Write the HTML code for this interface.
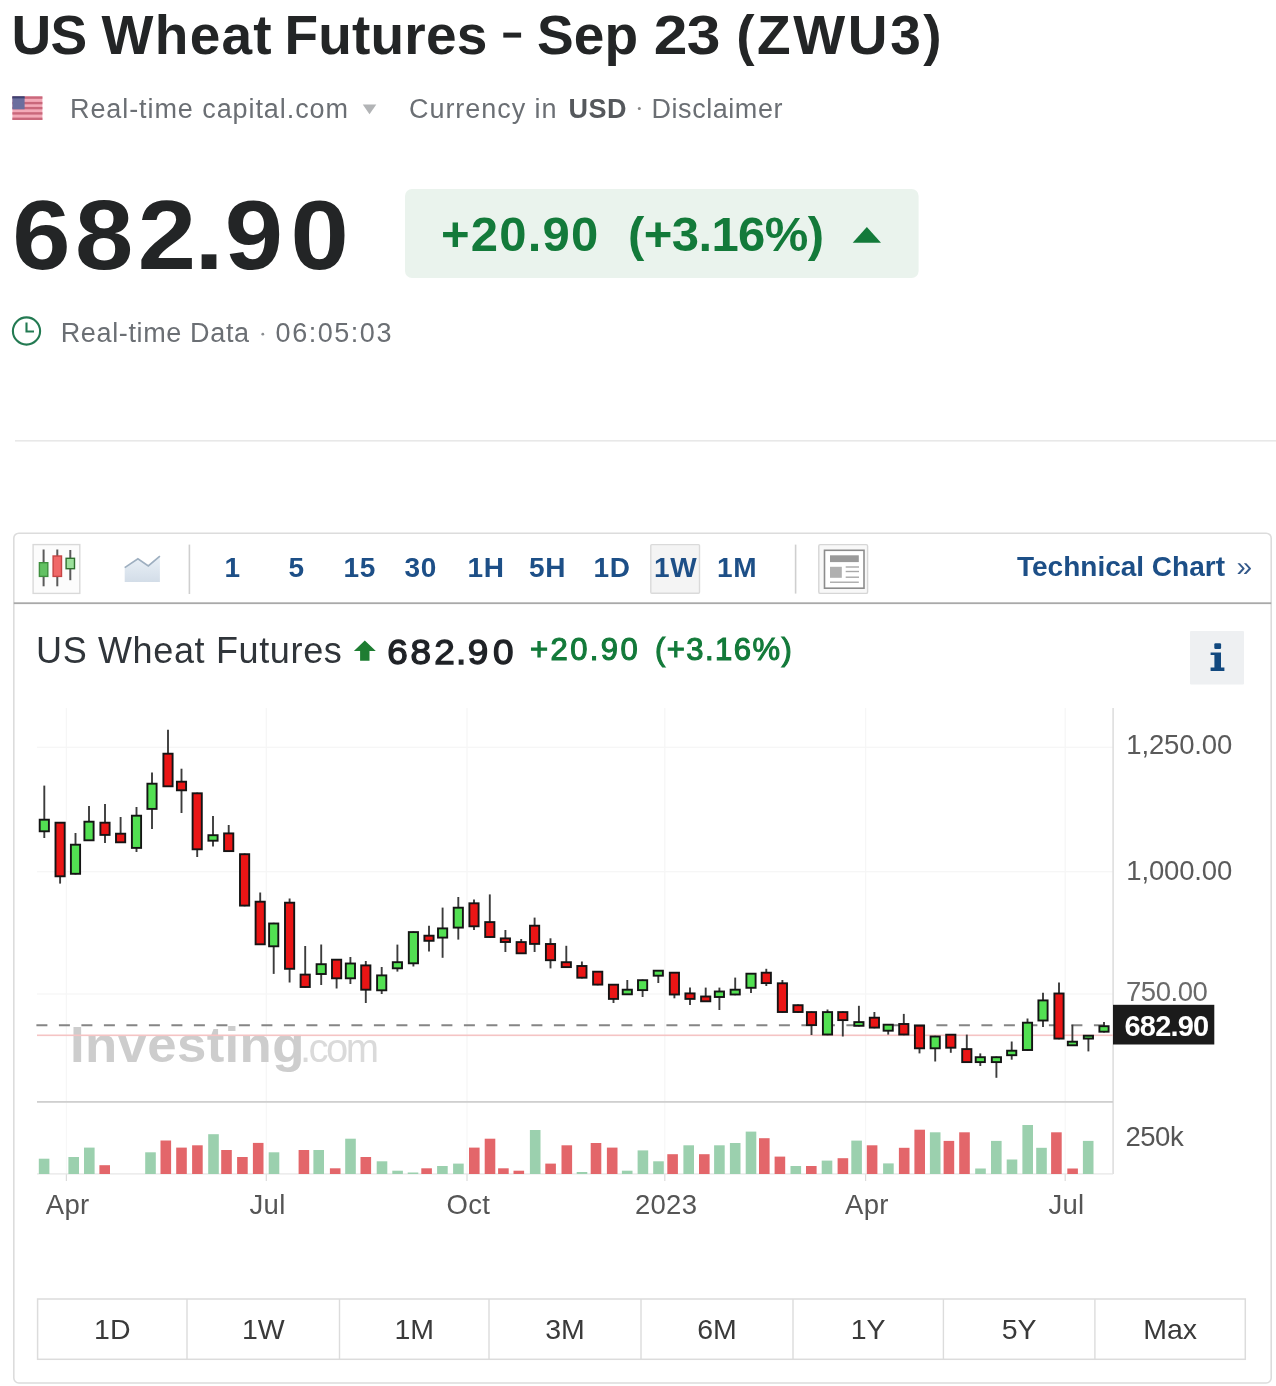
<!DOCTYPE html>
<html><head><meta charset="utf-8"><title>US Wheat Futures - Sep 23 (ZWU3)</title>
<style>
html,body{margin:0;padding:0;background:#fff;}
body{width:1276px;height:1386px;overflow:hidden;font-family:"Liberation Sans",sans-serif;}
svg{display:block;will-change:transform}
</style></head><body>
<svg width="1276" height="1386" viewBox="0 0 1276 1386">
<text x="11.4" y="53.6" font-size="55" font-weight="700" fill="#232526" letter-spacing="-0.6" font-family="Liberation Sans" >US</text>
<text x="101.6" y="53.6" font-size="55" font-weight="700" fill="#232526" letter-spacing="1.27" font-family="Liberation Sans" >Wheat</text>
<text x="284.5" y="53.6" font-size="55" font-weight="700" fill="#232526" letter-spacing="0.18" font-family="Liberation Sans" >Futures</text>
<rect x="503.3" y="32.6" width="17.8" height="5.0" fill="#232526"/><text x="537" y="53.6" font-size="55" font-weight="700" fill="#232526" letter-spacing="0.15" font-family="Liberation Sans" >Sep</text>
<text x="670.6" y="53.6" font-size="55" font-weight="700" fill="#232526" text-anchor="middle" font-family="Liberation Sans" transform="translate(670.6,0) scale(1.1,1) translate(-670.6,0)">2</text><text x="703.5" y="53.6" font-size="55" font-weight="700" fill="#232526" text-anchor="middle" font-family="Liberation Sans" transform="translate(703.5,0) scale(1.1,1) translate(-703.5,0)">3</text><text x="736.2" y="53.6" font-size="55" font-weight="700" fill="#232526" letter-spacing="2.6" font-family="Liberation Sans" >(ZWU3)</text>

<g><rect x="12.4" y="96.4" width="30" height="23.6" fill="#f3aab8"/><rect x="12.4" y="96.39999999999999" width="30" height="2.4" fill="#c9687b"/><rect x="12.4" y="101.89999999999999" width="30" height="2.4" fill="#c9687b"/><rect x="12.4" y="106.89999999999999" width="30" height="2.4" fill="#c9687b"/><rect x="12.4" y="112.2" width="30" height="2.4" fill="#c9687b"/><rect x="12.4" y="117.6" width="30" height="2.4" fill="#c9687b"/><rect x="12.4" y="96.4" width="12.2" height="12.9" fill="#6b6e9e"/><rect x="12.4" y="96.4" width="12.2" height="2" fill="#3d4270"/></g>
<text x="70" y="118" font-size="27" font-weight="400" fill="#6b6f74" letter-spacing="0.92" font-family="Liberation Sans" >Real-time capital.com</text>
<path d="M362.8,104.5 L376.3,104.5 L369.5,114.3 Z" fill="#b2b4b6"/>
<text x="409" y="118" font-size="27" font-weight="400" fill="#6b6f74" letter-spacing="0.95" font-family="Liberation Sans" >Currency in</text>
<text x="568.5" y="118" font-size="27" font-weight="700" fill="#55585c" letter-spacing="0.5" font-family="Liberation Sans" >USD</text>
<circle cx="639.3" cy="108.5" r="1.5" fill="#888"/>
<text x="651.5" y="118" font-size="27" font-weight="400" fill="#6b6f74" letter-spacing="0.55" font-family="Liberation Sans" >Disclaimer</text>
<text x="41.5" y="268.8" font-size="98" font-weight="700" fill="#232526" text-anchor="middle" font-family="Liberation Sans" transform="translate(41.5,0) scale(1.07,1) translate(-41.5,0)">6</text><text x="104.2" y="268.8" font-size="98" font-weight="700" fill="#232526" text-anchor="middle" font-family="Liberation Sans" transform="translate(104.2,0) scale(1.07,1) translate(-104.2,0)">8</text><text x="166.8" y="268.8" font-size="98" font-weight="700" fill="#232526" text-anchor="middle" font-family="Liberation Sans" transform="translate(166.8,0) scale(1.07,1) translate(-166.8,0)">2</text><text x="209" y="268.8" font-size="98" font-weight="700" fill="#232526" text-anchor="middle" font-family="Liberation Sans" transform="translate(209,0) scale(1.07,1) translate(-209,0)">.</text><text x="253.9" y="268.8" font-size="98" font-weight="700" fill="#232526" text-anchor="middle" font-family="Liberation Sans" transform="translate(253.9,0) scale(1.07,1) translate(-253.9,0)">9</text><text x="319.7" y="268.8" font-size="98" font-weight="700" fill="#232526" text-anchor="middle" font-family="Liberation Sans" transform="translate(319.7,0) scale(1.07,1) translate(-319.7,0)">0</text>
<rect x="405" y="189" width="513.6" height="89" rx="7" fill="#eaf3ed"/>
<text x="441" y="251" font-size="49" font-weight="700" fill="#137a3a" letter-spacing="1.2" font-family="Liberation Sans" >+20.90</text>
<text x="628" y="251" font-size="49" font-weight="700" fill="#137a3a" letter-spacing="-0.6" font-family="Liberation Sans" >(+3.16%)</text>
<path d="M852.7,242.7 L881,242.7 L866.85,227 Z" fill="#137a3a"/>
<circle cx="26.5" cy="331" r="13.6" fill="none" stroke="#237a52" stroke-width="2.1"/>
<path d="M26.5,322.5 L26.5,331.5 L34,331.5" fill="none" stroke="#237a52" stroke-width="2.1"/>
<text x="60.7" y="341.6" font-size="27" font-weight="400" fill="#6b6f74" letter-spacing="0.64" font-family="Liberation Sans" >Real-time Data</text>
<circle cx="262.8" cy="334.2" r="1.4" fill="#8a8d90"/><text x="275.6" y="341.6" font-size="27" font-weight="400" fill="#6b6f74" letter-spacing="1.53" font-family="Liberation Sans" >06:05:03</text>
<rect x="15" y="440" width="1261" height="1.6" fill="#e8e8e8"/>
<rect x="13.8" y="533.2" width="1257.4" height="849.8" rx="5" fill="#fff" stroke="#dcdcdc" stroke-width="1.6"/>
<rect x="13.8" y="602.3" width="1257.4" height="1.8" fill="#a9a9a9"/>
<rect x="33.1" y="544.6" width="46.7" height="48.8" fill="#fcfcfc" stroke="#d9d9d9" stroke-width="1.4"/>
<line x1="43.6" y1="549.5" x2="43.6" y2="586.3" stroke="#5a5a5a" stroke-width="2"/><rect x="39.4" y="562.7" width="8.4" height="13.7" fill="#63c163" stroke="#3f8f3f" stroke-width="1.4"/>
<line x1="57.3" y1="549.5" x2="57.3" y2="586.3" stroke="#5a5a5a" stroke-width="2"/><rect x="53.099999999999994" y="556" width="8.4" height="20.4" fill="#f06868" stroke="#c64444" stroke-width="1.4"/>
<line x1="70.3" y1="550" x2="70.3" y2="580.2" stroke="#5a5a5a" stroke-width="2"/><rect x="66.1" y="558.3" width="8.4" height="10.4" fill="#9be09b" stroke="#2f6f2f" stroke-width="1.4"/>
<defs><linearGradient id="ag" x1="0" y1="0" x2="0" y2="1"><stop offset="0" stop-color="#eaf1f7"/><stop offset="1" stop-color="#d3dde8"/></linearGradient></defs><path d="M124.7,581.9 L124.7,567.6 L137.9,558.8 L148.3,566 L159.9,556.1 L159.9,581.9 Z" fill="url(#ag)"/>
<path d="M124.7,567.6 L137.9,558.8 L148.3,566 L159.9,556.1" fill="none" stroke="#9eafc0" stroke-width="1.7"/>
<rect x="188.6" y="544.6" width="1.6" height="49.4" fill="#cfcfcf"/>
<rect x="650.8" y="544.6" width="48.7" height="48.6" fill="#f4f4f4" stroke="#dadada" stroke-width="1.4" rx="1"/>
<text x="224.5" y="576.5" font-size="28" font-weight="700" fill="#1d4f87" letter-spacing="0.8" font-family="Liberation Sans" >1</text>
<text x="288.5" y="576.5" font-size="28" font-weight="700" fill="#1d4f87" letter-spacing="0.8" font-family="Liberation Sans" >5</text>
<text x="343.5" y="576.5" font-size="28" font-weight="700" fill="#1d4f87" letter-spacing="0.8" font-family="Liberation Sans" >15</text>
<text x="404.5" y="576.5" font-size="28" font-weight="700" fill="#1d4f87" letter-spacing="0.8" font-family="Liberation Sans" >30</text>
<text x="467.5" y="576.5" font-size="28" font-weight="700" fill="#1d4f87" letter-spacing="0.8" font-family="Liberation Sans" >1H</text>
<text x="529" y="576.5" font-size="28" font-weight="700" fill="#1d4f87" letter-spacing="0.8" font-family="Liberation Sans" >5H</text>
<text x="593.5" y="576.5" font-size="28" font-weight="700" fill="#1d4f87" letter-spacing="0.8" font-family="Liberation Sans" >1D</text>
<text x="654" y="576.5" font-size="28" font-weight="700" fill="#1d4f87" letter-spacing="0.8" font-family="Liberation Sans" >1W</text>
<text x="717" y="576.5" font-size="28" font-weight="700" fill="#1d4f87" letter-spacing="0.8" font-family="Liberation Sans" >1M</text>
<rect x="794.8" y="544.6" width="1.6" height="49" fill="#cfcfcf"/>
<rect x="818.8" y="544.6" width="48.8" height="48.8" rx="1.5" fill="#f8f8f8" stroke="#d6d6d6" stroke-width="1.4"/>
<rect x="824.5" y="550.3" width="39.5" height="37.9" fill="#fff" stroke="#8c8c8c" stroke-width="1.6"/>
<rect x="830" y="555.3" width="28.8" height="6.8" fill="#9a9a9a"/>
<rect x="830" y="566.8" width="11.8" height="11" fill="#b0b0b0"/>
<rect x="845.7" y="566.3" width="13.3" height="1.4" fill="#a8a8a8"/><rect x="845.7" y="570.8" width="13.3" height="1.4" fill="#a8a8a8"/><rect x="845.7" y="576.5" width="13.3" height="1.4" fill="#a8a8a8"/><rect x="830" y="581.5" width="28.8" height="1.5" fill="#b0b0b0"/>
<text x="1017" y="576.3" font-size="28" font-weight="700" fill="#1d4f87" font-family="Liberation Sans" >Technical Chart</text>
<text x="1236.5" y="576" font-size="28" font-weight="400" fill="#34598a" font-family="Liberation Sans" >»</text>
<text x="36" y="663.3" font-size="36" font-weight="400" fill="#30353a" letter-spacing="0.65" font-family="Liberation Sans" >US Wheat Futures</text>
<path d="M364.8,640.4 L375.8,651 L369.5,651 L369.5,660.7 L360.1,660.7 L360.1,651 L353.9,651 Z" fill="#1e7d32"/>
<text x="397.6" y="664" font-size="35.5" font-weight="400" fill="#1f2226" stroke="#1f2226" stroke-width="1.3" text-anchor="middle" font-family="Liberation Sans" transform="translate(397.6,0) scale(1.04,1) translate(-397.6,0)">6</text><text x="420.8" y="664" font-size="35.5" font-weight="400" fill="#1f2226" stroke="#1f2226" stroke-width="1.3" text-anchor="middle" font-family="Liberation Sans" transform="translate(420.8,0) scale(1.04,1) translate(-420.8,0)">8</text><text x="444.6" y="664" font-size="35.5" font-weight="400" fill="#1f2226" stroke="#1f2226" stroke-width="1.3" text-anchor="middle" font-family="Liberation Sans" transform="translate(444.6,0) scale(1.04,1) translate(-444.6,0)">2</text><text x="461.2" y="664" font-size="35.5" font-weight="400" fill="#1f2226" stroke="#1f2226" stroke-width="1.3" text-anchor="middle" font-family="Liberation Sans" transform="translate(461.2,0) scale(1.04,1) translate(-461.2,0)">.</text><text x="478.1" y="664" font-size="35.5" font-weight="400" fill="#1f2226" stroke="#1f2226" stroke-width="1.3" text-anchor="middle" font-family="Liberation Sans" transform="translate(478.1,0) scale(1.04,1) translate(-478.1,0)">9</text><text x="503.2" y="664" font-size="35.5" font-weight="400" fill="#1f2226" stroke="#1f2226" stroke-width="1.3" text-anchor="middle" font-family="Liberation Sans" transform="translate(503.2,0) scale(1.04,1) translate(-503.2,0)">0</text>
<text x="530" y="659.8" font-size="31" font-weight="400" fill="#137a3a" letter-spacing="2.4" font-family="Liberation Sans" stroke="#137a3a" stroke-width="1.1">+20.90</text>
<text x="655" y="659.8" font-size="31" font-weight="400" fill="#137a3a" letter-spacing="1.45" font-family="Liberation Sans" stroke="#137a3a" stroke-width="1.1">(+3.16%)</text>
<rect x="1190" y="631" width="54" height="53.5" fill="#eef0f2" rx="1"/>
<rect x="1214.3" y="643.3" width="6.8" height="5.6" rx="1.2" fill="#12497f"/><path d="M1210.6,652.4 L1221,652.4 L1221,667.6 L1224.4,667.6 L1224.4,671 L1210.6,671 L1210.6,667.6 L1214.4,667.6 L1214.4,655 L1210.6,655 Z" fill="#12497f"/>
<rect x="65.80000000000001" y="708" width="1.2" height="394" fill="#f6f6f6"/><rect x="65.80000000000001" y="1102" width="1.2" height="72" fill="#f7f7f7"/><rect x="65.80000000000001" y="1174" width="1.2" height="7" fill="#dcdcdc"/><rect x="265.7" y="708" width="1.2" height="394" fill="#f6f6f6"/><rect x="265.7" y="1102" width="1.2" height="72" fill="#f7f7f7"/><rect x="265.7" y="1174" width="1.2" height="7" fill="#dcdcdc"/><rect x="466.4" y="708" width="1.2" height="394" fill="#f6f6f6"/><rect x="466.4" y="1102" width="1.2" height="72" fill="#f7f7f7"/><rect x="466.4" y="1174" width="1.2" height="7" fill="#dcdcdc"/><rect x="664.1999999999999" y="708" width="1.2" height="394" fill="#f6f6f6"/><rect x="664.1999999999999" y="1102" width="1.2" height="72" fill="#f7f7f7"/><rect x="664.1999999999999" y="1174" width="1.2" height="7" fill="#dcdcdc"/><rect x="865.0" y="708" width="1.2" height="394" fill="#f6f6f6"/><rect x="865.0" y="1102" width="1.2" height="72" fill="#f7f7f7"/><rect x="865.0" y="1174" width="1.2" height="7" fill="#dcdcdc"/><rect x="1064.6000000000001" y="708" width="1.2" height="394" fill="#f6f6f6"/><rect x="1064.6000000000001" y="1102" width="1.2" height="72" fill="#f7f7f7"/><rect x="1064.6000000000001" y="1174" width="1.2" height="7" fill="#dcdcdc"/><rect x="37" y="746.6999999999999" width="1076" height="1.2" fill="#f6f6f6"/><rect x="37" y="871.1" width="1076" height="1.2" fill="#f6f6f6"/><rect x="37" y="993.4" width="1076" height="1.2" fill="#f6f6f6"/>
<rect x="1112.4" y="708" width="1.4" height="466" fill="#dadada"/>
<rect x="37" y="1101" width="1076" height="1.8" fill="#cfcfcf"/>
<rect x="37" y="1173.3" width="1076" height="1.2" fill="#e6e6e6"/>
<g transform="translate(70,0) scale(1.055,1) translate(-70,0)"><text x="70" y="1062" font-size="50" font-weight="700" fill="#cdcdcd" letter-spacing="0.35" font-family="Liberation Sans" >Investing</text>
</g><text x="300" y="1062" font-size="40" font-weight="400" fill="#dadada" letter-spacing="-2.5" font-family="Liberation Sans" >.com</text>
<line x1="36.4" y1="1025.2" x2="1112" y2="1025.2" stroke="#858585" stroke-width="2" stroke-dasharray="11,11.5"/>
<rect x="37" y="1034.5" width="1076" height="1.6" fill="#f5c4c4"/>
<rect x="38.8" y="1158.7" width="10.6" height="15.3" fill="#9bd0ae"/><rect x="68.4" y="1157" width="10.6" height="17.0" fill="#9bd0ae"/><rect x="84.0" y="1147.6" width="10.6" height="26.4" fill="#9bd0ae"/><rect x="99.4" y="1165.2" width="10.6" height="8.8" fill="#e3666a"/><rect x="145.2" y="1152.3" width="10.6" height="21.7" fill="#9bd0ae"/><rect x="160.5" y="1140.5" width="10.6" height="33.5" fill="#e3666a"/><rect x="176.2" y="1147.6" width="10.6" height="26.4" fill="#e3666a"/><rect x="192.1" y="1145.3" width="10.6" height="28.7" fill="#e3666a"/><rect x="208.2" y="1134.2" width="10.6" height="39.8" fill="#9bd0ae"/><rect x="221.2" y="1150" width="10.6" height="24.0" fill="#e3666a"/><rect x="237.1" y="1157" width="10.6" height="17.0" fill="#e3666a"/><rect x="252.9" y="1142.9" width="10.6" height="31.1" fill="#e3666a"/><rect x="268.7" y="1152.3" width="10.6" height="21.7" fill="#9bd0ae"/><rect x="298.6" y="1150" width="10.6" height="24.0" fill="#e3666a"/><rect x="313.4" y="1150" width="10.6" height="24.0" fill="#9bd0ae"/><rect x="329.9" y="1168.3" width="10.6" height="5.7" fill="#e3666a"/><rect x="345.2" y="1138.7" width="10.6" height="35.3" fill="#9bd0ae"/><rect x="360.5" y="1157" width="10.6" height="17.0" fill="#e3666a"/><rect x="376.7" y="1161.3" width="10.6" height="12.7" fill="#9bd0ae"/><rect x="392.3" y="1170.7" width="10.6" height="3.3" fill="#9bd0ae"/><rect x="407.7" y="1172.5" width="10.6" height="1.5" fill="#9bd0ae"/><rect x="421.3" y="1168.3" width="10.6" height="5.7" fill="#e3666a"/><rect x="437.1" y="1166" width="10.6" height="8.0" fill="#9bd0ae"/><rect x="453.1" y="1163.6" width="10.6" height="10.4" fill="#9bd0ae"/><rect x="469.0" y="1147.6" width="10.6" height="26.4" fill="#e3666a"/><rect x="484.7" y="1138.7" width="10.6" height="35.3" fill="#e3666a"/><rect x="498.1" y="1168.3" width="10.6" height="5.7" fill="#e3666a"/><rect x="513.5" y="1170.7" width="10.6" height="3.3" fill="#e3666a"/><rect x="529.9" y="1130" width="10.6" height="44.0" fill="#9bd0ae"/><rect x="545.3" y="1163.6" width="10.6" height="10.4" fill="#e3666a"/><rect x="561.5" y="1145.3" width="10.6" height="28.7" fill="#e3666a"/><rect x="576.7" y="1172" width="10.6" height="2.0" fill="#9bd0ae"/><rect x="590.7" y="1143" width="10.6" height="31.0" fill="#e3666a"/><rect x="606.9" y="1147.6" width="10.6" height="26.4" fill="#e3666a"/><rect x="621.9" y="1170.7" width="10.6" height="3.3" fill="#9bd0ae"/><rect x="637.6" y="1150.4" width="10.6" height="23.6" fill="#9bd0ae"/><rect x="653.2" y="1161.3" width="10.6" height="12.7" fill="#9bd0ae"/><rect x="667.3" y="1154.2" width="10.6" height="19.8" fill="#e3666a"/><rect x="683.4" y="1145.3" width="10.6" height="28.7" fill="#9bd0ae"/><rect x="699.0" y="1154.2" width="10.6" height="19.8" fill="#e3666a"/><rect x="714.1" y="1145.3" width="10.6" height="28.7" fill="#9bd0ae"/><rect x="729.9" y="1143" width="10.6" height="31.0" fill="#9bd0ae"/><rect x="745.7" y="1131.6" width="10.6" height="42.4" fill="#9bd0ae"/><rect x="759.0" y="1138.2" width="10.6" height="35.8" fill="#e3666a"/><rect x="774.6" y="1156.6" width="10.6" height="17.4" fill="#e3666a"/><rect x="790.5" y="1166" width="10.6" height="8.0" fill="#9bd0ae"/><rect x="806.0" y="1166" width="10.6" height="8.0" fill="#e3666a"/><rect x="821.7" y="1160.6" width="10.6" height="13.4" fill="#9bd0ae"/><rect x="837.6" y="1158.2" width="10.6" height="15.8" fill="#e3666a"/><rect x="851.3" y="1140.6" width="10.6" height="33.4" fill="#9bd0ae"/><rect x="866.8" y="1145.3" width="10.6" height="28.7" fill="#e3666a"/><rect x="883.1" y="1163.4" width="10.6" height="10.6" fill="#9bd0ae"/><rect x="898.9" y="1147.8" width="10.6" height="26.2" fill="#e3666a"/><rect x="914.4" y="1129.7" width="10.6" height="44.3" fill="#e3666a"/><rect x="929.9" y="1132.3" width="10.6" height="41.7" fill="#9bd0ae"/><rect x="943.6" y="1140.9" width="10.6" height="33.1" fill="#e3666a"/><rect x="959.2" y="1132.3" width="10.6" height="41.7" fill="#e3666a"/><rect x="975.2" y="1168.5" width="10.6" height="5.5" fill="#9bd0ae"/><rect x="991.0" y="1140.9" width="10.6" height="33.1" fill="#9bd0ae"/><rect x="1006.7" y="1159.5" width="10.6" height="14.5" fill="#9bd0ae"/><rect x="1022.4" y="1125" width="10.6" height="49.0" fill="#9bd0ae"/><rect x="1036.2" y="1147.8" width="10.6" height="26.2" fill="#9bd0ae"/><rect x="1051.1" y="1132.3" width="10.6" height="41.7" fill="#e3666a"/><rect x="1067.3" y="1168.5" width="10.6" height="5.5" fill="#e3666a"/><rect x="1082.9" y="1140.9" width="10.6" height="33.1" fill="#9bd0ae"/>
<line x1="44.3" y1="785.6" x2="44.3" y2="838" stroke="#3c3c3c" stroke-width="1.9"/><rect x="39.7" y="819.7" width="9.2" height="11.6" fill="#52e052" stroke="#141414" stroke-width="1.9"/>
<line x1="60.1" y1="822" x2="60.1" y2="883.6" stroke="#3c3c3c" stroke-width="1.9"/><rect x="55.5" y="822.7" width="9.2" height="53.6" fill="#ea1515" stroke="#141414" stroke-width="1.9"/>
<line x1="75.5" y1="833" x2="75.5" y2="874.5" stroke="#3c3c3c" stroke-width="1.9"/><rect x="70.9" y="844.7" width="9.2" height="29.1" fill="#52e052" stroke="#141414" stroke-width="1.9"/>
<line x1="89" y1="806" x2="89" y2="841" stroke="#3c3c3c" stroke-width="1.9"/><rect x="84.4" y="821.7" width="9.2" height="18.6" fill="#52e052" stroke="#141414" stroke-width="1.9"/>
<line x1="105" y1="804" x2="105" y2="843" stroke="#3c3c3c" stroke-width="1.9"/><rect x="100.4" y="822.7" width="9.2" height="12.2" fill="#ea1515" stroke="#141414" stroke-width="1.9"/>
<line x1="120.6" y1="817" x2="120.6" y2="843" stroke="#3c3c3c" stroke-width="1.9"/><rect x="116.0" y="833.7" width="9.2" height="8.6" fill="#ea1515" stroke="#141414" stroke-width="1.9"/>
<line x1="136.5" y1="807" x2="136.5" y2="852" stroke="#3c3c3c" stroke-width="1.9"/><rect x="131.9" y="815.7" width="9.2" height="32.2" fill="#52e052" stroke="#141414" stroke-width="1.9"/>
<line x1="152" y1="772.6" x2="152" y2="829" stroke="#3c3c3c" stroke-width="1.9"/><rect x="147.4" y="783.7" width="9.2" height="25.2" fill="#52e052" stroke="#141414" stroke-width="1.9"/>
<line x1="168" y1="729.7" x2="168" y2="787" stroke="#3c3c3c" stroke-width="1.9"/><rect x="163.4" y="753.7" width="9.2" height="32.6" fill="#ea1515" stroke="#141414" stroke-width="1.9"/>
<line x1="181.5" y1="768.7" x2="181.5" y2="813" stroke="#3c3c3c" stroke-width="1.9"/><rect x="176.9" y="781.7" width="9.2" height="8.6" fill="#ea1515" stroke="#141414" stroke-width="1.9"/>
<line x1="197.2" y1="792.6" x2="197.2" y2="857" stroke="#3c3c3c" stroke-width="1.9"/><rect x="192.6" y="793.3" width="9.2" height="56.0" fill="#ea1515" stroke="#141414" stroke-width="1.9"/>
<line x1="213" y1="816" x2="213" y2="846.6" stroke="#3c3c3c" stroke-width="1.9"/><rect x="208.4" y="835.2" width="9.2" height="5.5" fill="#52e052" stroke="#141414" stroke-width="1.9"/>
<line x1="228.7" y1="825" x2="228.7" y2="851.8" stroke="#3c3c3c" stroke-width="1.9"/><rect x="224.1" y="833.4" width="9.2" height="17.7" fill="#ea1515" stroke="#141414" stroke-width="1.9"/>
<line x1="244.6" y1="853.5" x2="244.6" y2="906.3" stroke="#3c3c3c" stroke-width="1.9"/><rect x="240.0" y="854.2" width="9.2" height="51.4" fill="#ea1515" stroke="#141414" stroke-width="1.9"/>
<line x1="260.2" y1="892.5" x2="260.2" y2="945" stroke="#3c3c3c" stroke-width="1.9"/><rect x="255.6" y="901.7" width="9.2" height="42.6" fill="#ea1515" stroke="#141414" stroke-width="1.9"/>
<line x1="273.7" y1="922.8" x2="273.7" y2="973.9" stroke="#3c3c3c" stroke-width="1.9"/><rect x="269.1" y="923.5" width="9.2" height="22.8" fill="#52e052" stroke="#141414" stroke-width="1.9"/>
<line x1="289.6" y1="898.5" x2="289.6" y2="982.5" stroke="#3c3c3c" stroke-width="1.9"/><rect x="285.0" y="902.7" width="9.2" height="66.1" fill="#ea1515" stroke="#141414" stroke-width="1.9"/>
<line x1="305.2" y1="946" x2="305.2" y2="987.7" stroke="#3c3c3c" stroke-width="1.9"/><rect x="300.6" y="974.6" width="9.2" height="12.4" fill="#ea1515" stroke="#141414" stroke-width="1.9"/>
<line x1="321.2" y1="944.5" x2="321.2" y2="985" stroke="#3c3c3c" stroke-width="1.9"/><rect x="316.6" y="964.2" width="9.2" height="9.8" fill="#52e052" stroke="#141414" stroke-width="1.9"/>
<line x1="336.6" y1="959" x2="336.6" y2="988.5" stroke="#3c3c3c" stroke-width="1.9"/><rect x="332.0" y="959.7" width="9.2" height="18.6" fill="#ea1515" stroke="#141414" stroke-width="1.9"/>
<line x1="350.4" y1="957" x2="350.4" y2="984" stroke="#3c3c3c" stroke-width="1.9"/><rect x="345.8" y="963.5" width="9.2" height="14.8" fill="#52e052" stroke="#141414" stroke-width="1.9"/>
<line x1="365.8" y1="961" x2="365.8" y2="1003" stroke="#3c3c3c" stroke-width="1.9"/><rect x="361.2" y="965.4" width="9.2" height="24.3" fill="#ea1515" stroke="#141414" stroke-width="1.9"/>
<line x1="381.7" y1="967" x2="381.7" y2="994" stroke="#3c3c3c" stroke-width="1.9"/><rect x="377.1" y="975.4" width="9.2" height="14.9" fill="#52e052" stroke="#141414" stroke-width="1.9"/>
<line x1="397.4" y1="944.6" x2="397.4" y2="971.6" stroke="#3c3c3c" stroke-width="1.9"/><rect x="392.8" y="962.2" width="9.2" height="6.1" fill="#52e052" stroke="#141414" stroke-width="1.9"/>
<line x1="413.4" y1="931.4" x2="413.4" y2="966.5" stroke="#3c3c3c" stroke-width="1.9"/><rect x="408.8" y="932.1" width="9.2" height="31.2" fill="#52e052" stroke="#141414" stroke-width="1.9"/>
<line x1="429" y1="925.8" x2="429" y2="951.5" stroke="#3c3c3c" stroke-width="1.9"/><rect x="424.4" y="935.7" width="9.2" height="5.1" fill="#ea1515" stroke="#141414" stroke-width="1.9"/>
<line x1="442.6" y1="907.6" x2="442.6" y2="957.8" stroke="#3c3c3c" stroke-width="1.9"/><rect x="438.0" y="928.4" width="9.2" height="9.2" fill="#52e052" stroke="#141414" stroke-width="1.9"/>
<line x1="458.3" y1="897" x2="458.3" y2="939.6" stroke="#3c3c3c" stroke-width="1.9"/><rect x="453.7" y="907.7" width="9.2" height="19.9" fill="#52e052" stroke="#141414" stroke-width="1.9"/>
<line x1="474" y1="899.4" x2="474" y2="930" stroke="#3c3c3c" stroke-width="1.9"/><rect x="469.4" y="903.3" width="9.2" height="23.0" fill="#ea1515" stroke="#141414" stroke-width="1.9"/>
<line x1="489.8" y1="894.4" x2="489.8" y2="937.7" stroke="#3c3c3c" stroke-width="1.9"/><rect x="485.2" y="922.1" width="9.2" height="14.9" fill="#ea1515" stroke="#141414" stroke-width="1.9"/>
<line x1="505.4" y1="930" x2="505.4" y2="952" stroke="#3c3c3c" stroke-width="1.9"/><rect x="500.8" y="938.4" width="9.2" height="3.6" fill="#ea1515" stroke="#141414" stroke-width="1.9"/>
<line x1="521.2" y1="939" x2="521.2" y2="954" stroke="#3c3c3c" stroke-width="1.9"/><rect x="516.6" y="942.1" width="9.2" height="11.2" fill="#ea1515" stroke="#141414" stroke-width="1.9"/>
<line x1="534.6" y1="917.6" x2="534.6" y2="952" stroke="#3c3c3c" stroke-width="1.9"/><rect x="530.0" y="925.7" width="9.2" height="18.2" fill="#ea1515" stroke="#141414" stroke-width="1.9"/>
<line x1="550.5" y1="938.3" x2="550.5" y2="968.4" stroke="#3c3c3c" stroke-width="1.9"/><rect x="545.9" y="944.0" width="9.2" height="16.2" fill="#ea1515" stroke="#141414" stroke-width="1.9"/>
<line x1="566.3" y1="945.8" x2="566.3" y2="967.8" stroke="#3c3c3c" stroke-width="1.9"/><rect x="561.7" y="962.2" width="9.2" height="4.9" fill="#ea1515" stroke="#141414" stroke-width="1.9"/>
<line x1="581.9" y1="961.5" x2="581.9" y2="978.4" stroke="#3c3c3c" stroke-width="1.9"/><rect x="577.3" y="966.0" width="9.2" height="11.7" fill="#ea1515" stroke="#141414" stroke-width="1.9"/>
<line x1="597.7" y1="971" x2="597.7" y2="985.3" stroke="#3c3c3c" stroke-width="1.9"/><rect x="593.1" y="971.7" width="9.2" height="12.9" fill="#ea1515" stroke="#141414" stroke-width="1.9"/>
<line x1="613.5" y1="984" x2="613.5" y2="1003" stroke="#3c3c3c" stroke-width="1.9"/><rect x="608.9" y="984.7" width="9.2" height="14.2" fill="#ea1515" stroke="#141414" stroke-width="1.9"/>
<line x1="627.3" y1="980" x2="627.3" y2="995" stroke="#3c3c3c" stroke-width="1.9"/><rect x="622.7" y="989.7" width="9.2" height="4.6" fill="#52e052" stroke="#141414" stroke-width="1.9"/>
<line x1="642.6" y1="979.5" x2="642.6" y2="997" stroke="#3c3c3c" stroke-width="1.9"/><rect x="638.0" y="980.2" width="9.2" height="9.9" fill="#52e052" stroke="#141414" stroke-width="1.9"/>
<line x1="658.3" y1="970" x2="658.3" y2="983" stroke="#3c3c3c" stroke-width="1.9"/><rect x="653.7" y="970.7" width="9.2" height="5.0" fill="#52e052" stroke="#141414" stroke-width="1.9"/>
<line x1="674.4" y1="972" x2="674.4" y2="998.3" stroke="#3c3c3c" stroke-width="1.9"/><rect x="669.8" y="972.7" width="9.2" height="21.8" fill="#ea1515" stroke="#141414" stroke-width="1.9"/>
<line x1="690" y1="987.6" x2="690" y2="1005" stroke="#3c3c3c" stroke-width="1.9"/><rect x="685.4" y="993.4" width="9.2" height="5.5" fill="#ea1515" stroke="#141414" stroke-width="1.9"/>
<line x1="705.7" y1="987.6" x2="705.7" y2="1002" stroke="#3c3c3c" stroke-width="1.9"/><rect x="701.1" y="996.5" width="9.2" height="4.8" fill="#ea1515" stroke="#141414" stroke-width="1.9"/>
<line x1="719.4" y1="987.6" x2="719.4" y2="1010" stroke="#3c3c3c" stroke-width="1.9"/><rect x="714.8" y="991.5" width="9.2" height="5.5" fill="#52e052" stroke="#141414" stroke-width="1.9"/>
<line x1="735.2" y1="977.6" x2="735.2" y2="995.2" stroke="#3c3c3c" stroke-width="1.9"/><rect x="730.6" y="989.7" width="9.2" height="4.8" fill="#52e052" stroke="#141414" stroke-width="1.9"/>
<line x1="751" y1="973" x2="751" y2="993" stroke="#3c3c3c" stroke-width="1.9"/><rect x="746.4" y="973.7" width="9.2" height="14.1" fill="#52e052" stroke="#141414" stroke-width="1.9"/>
<line x1="766.3" y1="968.8" x2="766.3" y2="986" stroke="#3c3c3c" stroke-width="1.9"/><rect x="761.7" y="972.7" width="9.2" height="10.4" fill="#ea1515" stroke="#141414" stroke-width="1.9"/>
<line x1="782.4" y1="980" x2="782.4" y2="1012.7" stroke="#3c3c3c" stroke-width="1.9"/><rect x="777.8" y="983.3" width="9.2" height="28.7" fill="#ea1515" stroke="#141414" stroke-width="1.9"/>
<line x1="798" y1="1004.5" x2="798" y2="1012.7" stroke="#3c3c3c" stroke-width="1.9"/><rect x="793.4" y="1005.2" width="9.2" height="6.8" fill="#ea1515" stroke="#141414" stroke-width="1.9"/>
<line x1="811.5" y1="1011.4" x2="811.5" y2="1035" stroke="#3c3c3c" stroke-width="1.9"/><rect x="806.9" y="1012.1" width="9.2" height="13.0" fill="#ea1515" stroke="#141414" stroke-width="1.9"/>
<line x1="827.5" y1="1009.5" x2="827.5" y2="1035.2" stroke="#3c3c3c" stroke-width="1.9"/><rect x="822.9" y="1012.1" width="9.2" height="22.4" fill="#52e052" stroke="#141414" stroke-width="1.9"/>
<line x1="842.8" y1="1011.4" x2="842.8" y2="1036.5" stroke="#3c3c3c" stroke-width="1.9"/><rect x="838.2" y="1012.1" width="9.2" height="8.0" fill="#ea1515" stroke="#141414" stroke-width="1.9"/>
<line x1="858.9" y1="1005.8" x2="858.9" y2="1026.5" stroke="#3c3c3c" stroke-width="1.9"/><rect x="854.3" y="1022.1" width="9.2" height="3.7" fill="#52e052" stroke="#141414" stroke-width="1.9"/>
<line x1="874.4" y1="1012" x2="874.4" y2="1028.3" stroke="#3c3c3c" stroke-width="1.9"/><rect x="869.8" y="1017.7" width="9.2" height="9.9" fill="#ea1515" stroke="#141414" stroke-width="1.9"/>
<line x1="888.2" y1="1024" x2="888.2" y2="1034.6" stroke="#3c3c3c" stroke-width="1.9"/><rect x="883.6" y="1024.7" width="9.2" height="6.0" fill="#52e052" stroke="#141414" stroke-width="1.9"/>
<line x1="903.8" y1="1013.9" x2="903.8" y2="1035.2" stroke="#3c3c3c" stroke-width="1.9"/><rect x="899.2" y="1024.0" width="9.2" height="10.5" fill="#ea1515" stroke="#141414" stroke-width="1.9"/>
<line x1="919.5" y1="1025" x2="919.5" y2="1053.4" stroke="#3c3c3c" stroke-width="1.9"/><rect x="914.9" y="1025.7" width="9.2" height="22.6" fill="#ea1515" stroke="#141414" stroke-width="1.9"/>
<line x1="935.2" y1="1035.8" x2="935.2" y2="1061.5" stroke="#3c3c3c" stroke-width="1.9"/><rect x="930.6" y="1036.5" width="9.2" height="11.8" fill="#52e052" stroke="#141414" stroke-width="1.9"/>
<line x1="950.8" y1="1034" x2="950.8" y2="1052.8" stroke="#3c3c3c" stroke-width="1.9"/><rect x="946.2" y="1034.7" width="9.2" height="13.0" fill="#ea1515" stroke="#141414" stroke-width="1.9"/>
<line x1="966.8" y1="1034.6" x2="966.8" y2="1062.8" stroke="#3c3c3c" stroke-width="1.9"/><rect x="962.2" y="1049.1" width="9.2" height="13.0" fill="#ea1515" stroke="#141414" stroke-width="1.9"/>
<line x1="980.3" y1="1053.4" x2="980.3" y2="1066" stroke="#3c3c3c" stroke-width="1.9"/><rect x="975.7" y="1057.2" width="9.2" height="4.9" fill="#52e052" stroke="#141414" stroke-width="1.9"/>
<line x1="996.4" y1="1056.5" x2="996.4" y2="1077.8" stroke="#3c3c3c" stroke-width="1.9"/><rect x="991.8" y="1057.2" width="9.2" height="4.9" fill="#52e052" stroke="#141414" stroke-width="1.9"/>
<line x1="1011.7" y1="1041.5" x2="1011.7" y2="1059.7" stroke="#3c3c3c" stroke-width="1.9"/><rect x="1007.1" y="1050.7" width="9.2" height="4.5" fill="#52e052" stroke="#141414" stroke-width="1.9"/>
<line x1="1027.5" y1="1018.5" x2="1027.5" y2="1050.7" stroke="#3c3c3c" stroke-width="1.9"/><rect x="1022.9" y="1022.7" width="9.2" height="27.3" fill="#52e052" stroke="#141414" stroke-width="1.9"/>
<line x1="1043" y1="992.8" x2="1043" y2="1027" stroke="#3c3c3c" stroke-width="1.9"/><rect x="1038.4" y="1000.4" width="9.2" height="20.1" fill="#52e052" stroke="#141414" stroke-width="1.9"/>
<line x1="1059" y1="982.4" x2="1059" y2="1039.3" stroke="#3c3c3c" stroke-width="1.9"/><rect x="1054.4" y="993.5" width="9.2" height="45.1" fill="#ea1515" stroke="#141414" stroke-width="1.9"/>
<line x1="1072.4" y1="1024.7" x2="1072.4" y2="1046" stroke="#3c3c3c" stroke-width="1.9"/><rect x="1067.8" y="1041.7" width="9.2" height="3.6" fill="#52e052" stroke="#141414" stroke-width="1.9"/>
<line x1="1088.4" y1="1035" x2="1088.4" y2="1051.4" stroke="#3c3c3c" stroke-width="1.9"/><rect x="1083.8" y="1035.7" width="9.2" height="2.9" fill="#52e052" stroke="#141414" stroke-width="1.9"/>
<line x1="1104" y1="1022" x2="1104" y2="1032.4" stroke="#3c3c3c" stroke-width="1.9"/><rect x="1099.4" y="1026.2" width="9.2" height="5.5" fill="#52e052" stroke="#141414" stroke-width="1.9"/>
<text x="1126.3" y="754.2" font-size="27.5" font-weight="400" fill="#5a5a5a" letter-spacing="-0.15" font-family="Liberation Sans" >1,250.00</text>
<text x="1126.3" y="879.8" font-size="27.5" font-weight="400" fill="#5a5a5a" letter-spacing="-0.15" font-family="Liberation Sans" >1,000.00</text>
<text x="1126" y="1000.8" font-size="27.5" font-weight="400" fill="#6a6a6a" letter-spacing="-0.45" font-family="Liberation Sans" >750.00</text>
<rect x="1113" y="1004.8" width="101.3" height="39.7" fill="#1b1b1b"/>
<text x="1124.5" y="1036.2" font-size="29" font-weight="700" fill="#fff" letter-spacing="-0.8" font-family="Liberation Sans" >682.90</text>
<text x="1125.5" y="1146" font-size="27.5" font-weight="400" fill="#555" letter-spacing="-0.5" font-family="Liberation Sans" >250k</text>
<text x="67.7" y="1213.6" font-size="27.5" font-weight="400" fill="#555" letter-spacing="0.3" text-anchor="middle" font-family="Liberation Sans" >Apr</text>
<text x="267.6" y="1213.6" font-size="27.5" font-weight="400" fill="#555" letter-spacing="0.3" text-anchor="middle" font-family="Liberation Sans" >Jul</text>
<text x="468.3" y="1213.6" font-size="27.5" font-weight="400" fill="#555" letter-spacing="0.3" text-anchor="middle" font-family="Liberation Sans" >Oct</text>
<text x="666.0999999999999" y="1213.6" font-size="27.5" font-weight="400" fill="#555" letter-spacing="0.3" text-anchor="middle" font-family="Liberation Sans" >2023</text>
<text x="866.9" y="1213.6" font-size="27.5" font-weight="400" fill="#555" letter-spacing="0.3" text-anchor="middle" font-family="Liberation Sans" >Apr</text>
<text x="1066.5" y="1213.6" font-size="27.5" font-weight="400" fill="#555" letter-spacing="0.3" text-anchor="middle" font-family="Liberation Sans" >Jul</text>
<rect x="37.6" y="1299" width="1207.7" height="60.3" fill="#fff" stroke="#dcdcdc" stroke-width="1.5"/>
<rect x="186.3" y="1299" width="1.4" height="60.3" fill="#dcdcdc"/><rect x="338.8" y="1299" width="1.4" height="60.3" fill="#dcdcdc"/><rect x="488.3" y="1299" width="1.4" height="60.3" fill="#dcdcdc"/><rect x="640.3" y="1299" width="1.4" height="60.3" fill="#dcdcdc"/><rect x="792.3" y="1299" width="1.4" height="60.3" fill="#dcdcdc"/><rect x="942.6999999999999" y="1299" width="1.4" height="60.3" fill="#dcdcdc"/><rect x="1094.2" y="1299" width="1.4" height="60.3" fill="#dcdcdc"/><text x="112.3" y="1338.8" font-size="28.5" font-weight="400" fill="#3a3a3a" text-anchor="middle" font-family="Liberation Sans" >1D</text>
<text x="263.25" y="1338.8" font-size="28.5" font-weight="400" fill="#3a3a3a" text-anchor="middle" font-family="Liberation Sans" >1W</text>
<text x="414.25" y="1338.8" font-size="28.5" font-weight="400" fill="#3a3a3a" text-anchor="middle" font-family="Liberation Sans" >1M</text>
<text x="565.0" y="1338.8" font-size="28.5" font-weight="400" fill="#3a3a3a" text-anchor="middle" font-family="Liberation Sans" >3M</text>
<text x="717.0" y="1338.8" font-size="28.5" font-weight="400" fill="#3a3a3a" text-anchor="middle" font-family="Liberation Sans" >6M</text>
<text x="868.2" y="1338.8" font-size="28.5" font-weight="400" fill="#3a3a3a" text-anchor="middle" font-family="Liberation Sans" >1Y</text>
<text x="1019.1500000000001" y="1338.8" font-size="28.5" font-weight="400" fill="#3a3a3a" text-anchor="middle" font-family="Liberation Sans" >5Y</text>
<text x="1170.1" y="1338.8" font-size="28.5" font-weight="400" fill="#3a3a3a" text-anchor="middle" font-family="Liberation Sans" >Max</text>
</svg>
</body></html>
